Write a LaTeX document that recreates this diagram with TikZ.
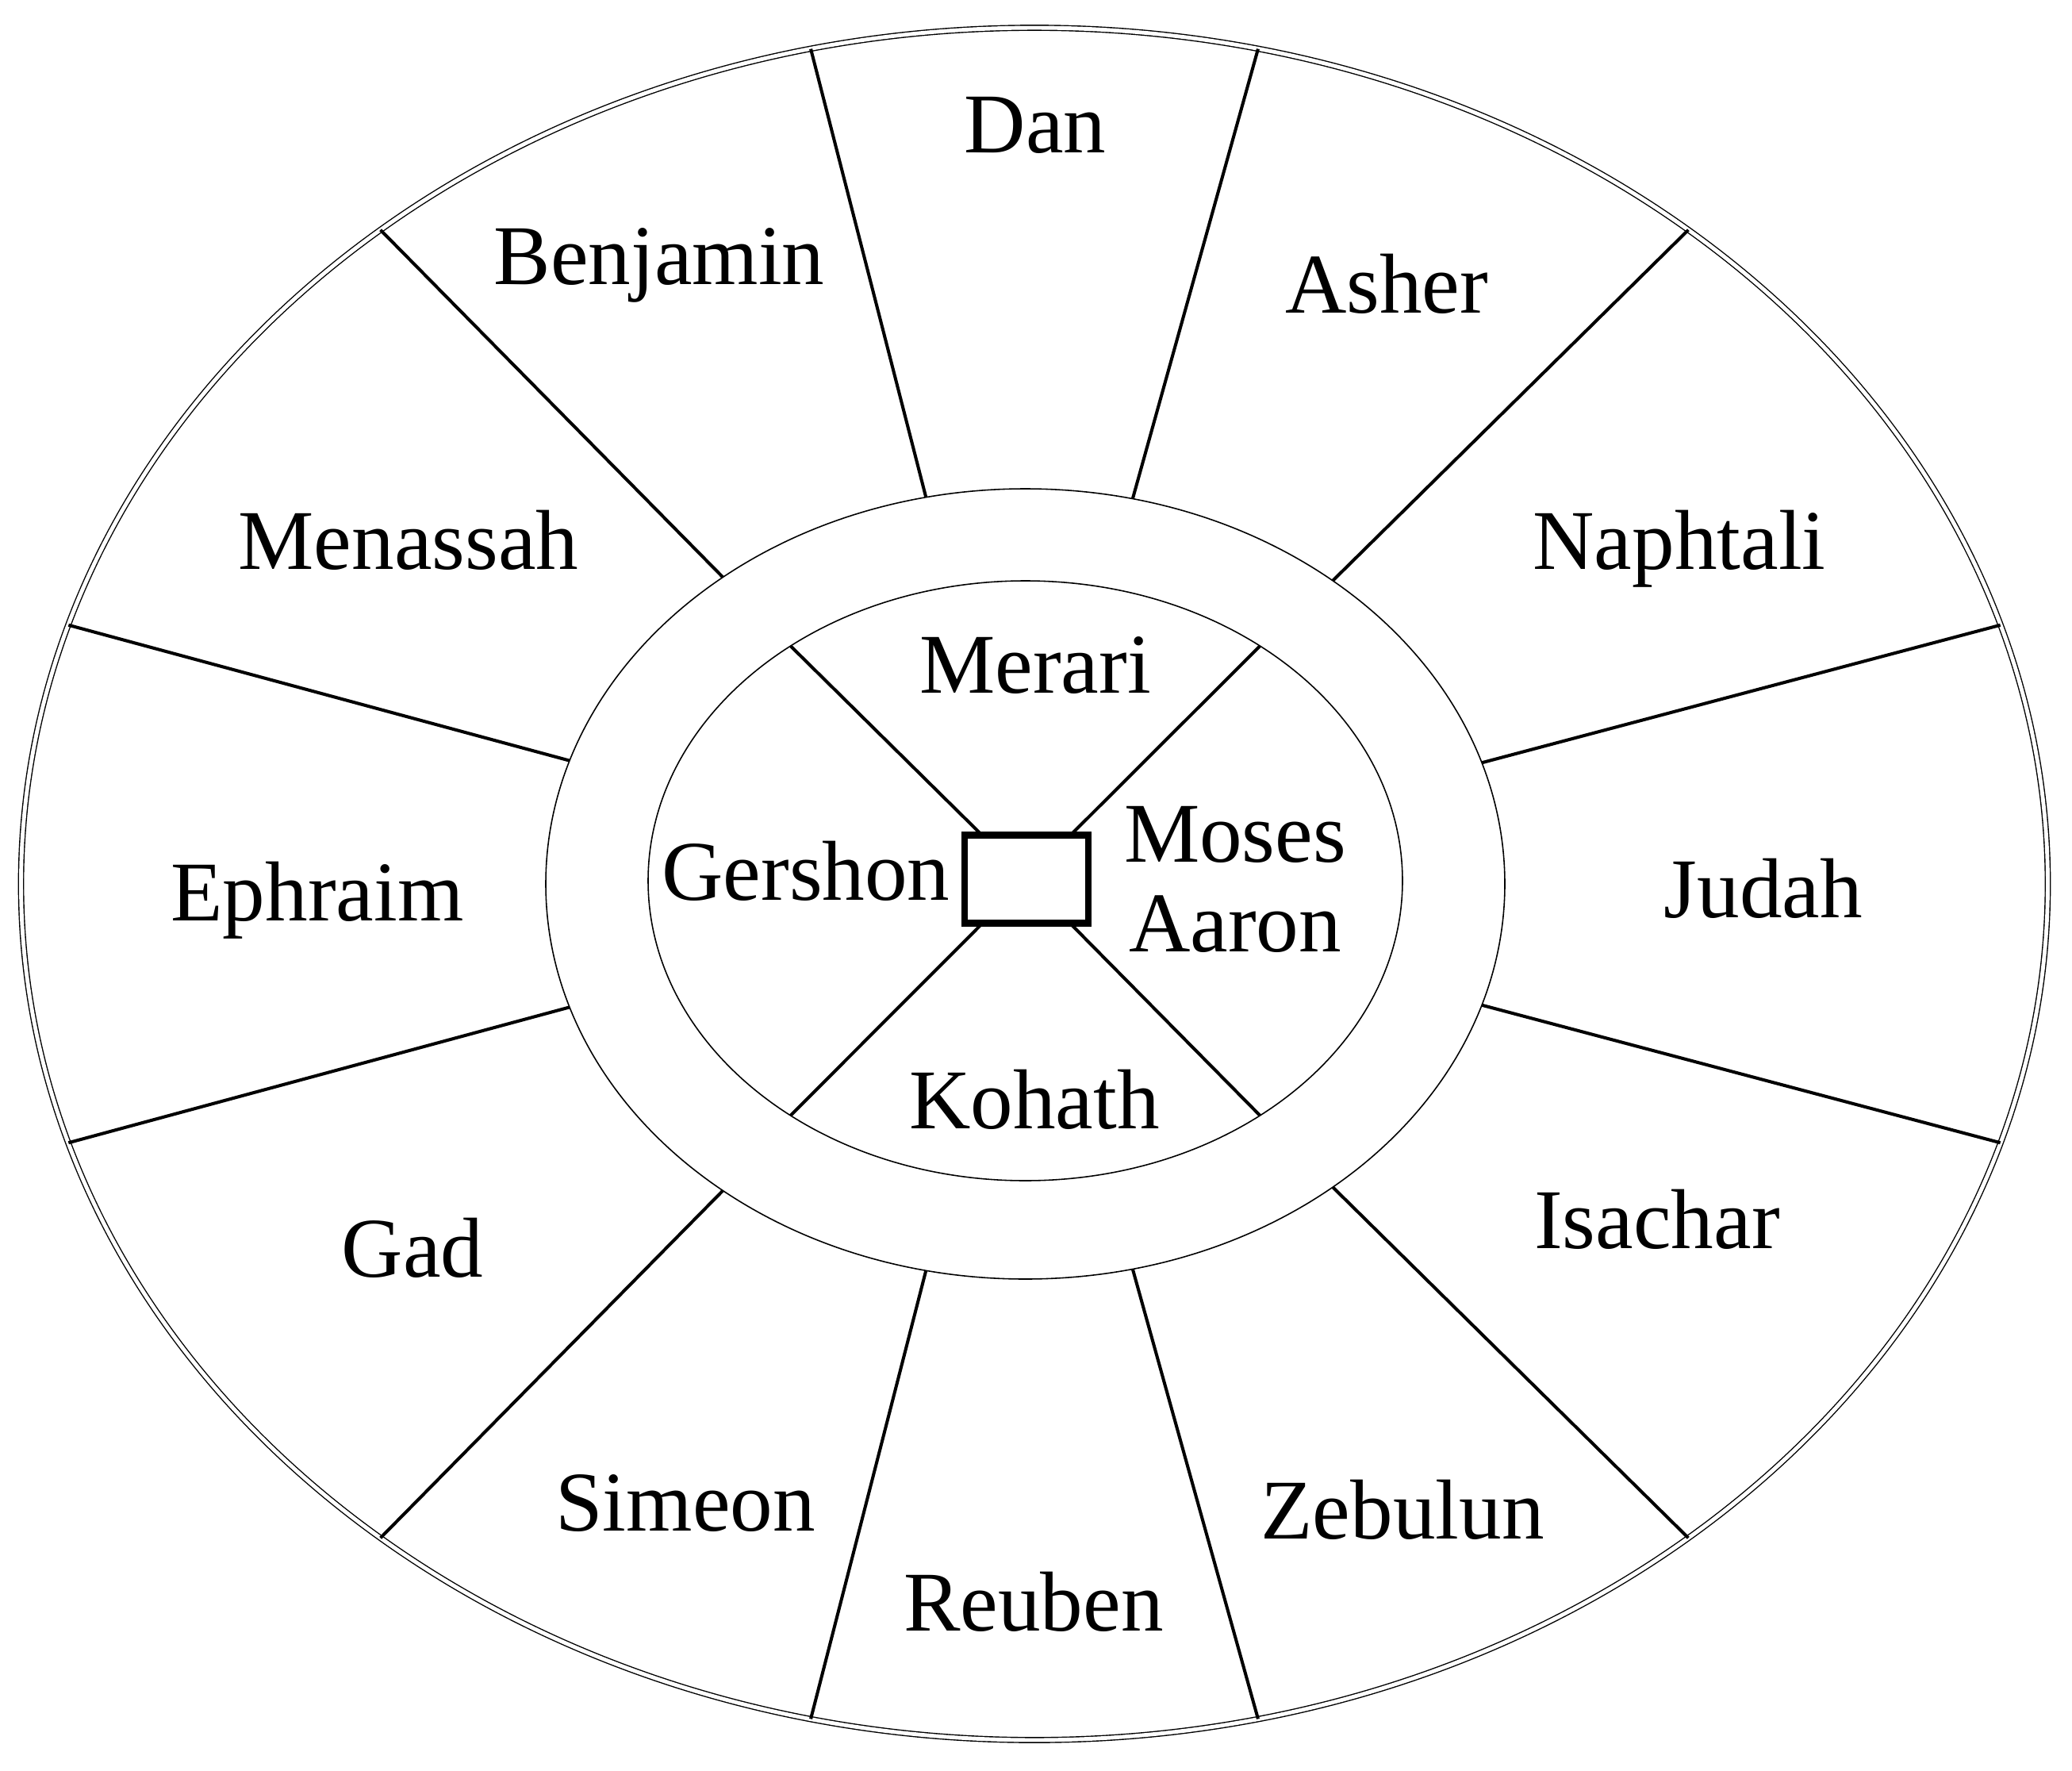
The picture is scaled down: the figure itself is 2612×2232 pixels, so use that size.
\documentclass[tikz,border=0pt]{standalone}
\usepackage{fontspec}
\setmainfont{Liberation Serif}
\usetikzlibrary{shapes.geometric}

\begin{document}
\begin{tikzpicture}[x=0.1mm,y=-0.1mm,
  ring/.style={ellipse,draw,line width=0.45pt,inner sep=0pt,outer sep=0pt},
  divider/.style={line width=1.15pt},
  tribe/.style={anchor=base,font=\fontsize{30.5}{32}\selectfont}]
 \useasboundingbox (0,0) rectangle (2612,2232);

 \node[ring,double,double distance=1.4pt,line width=0.4pt,minimum width=255.5mm,minimum height=215.8mm] (camp) at (1304,1114) {};
 \node[ring,minimum width=120.9mm,minimum height=99.6mm] (levites) at (1292.5,1114) {};
 \node[ring,minimum width=95.1mm,minimum height=75.6mm] (court) at (1292.5,1110) {};
 \node[rectangle,draw,line width=2.4pt,minimum width=15.6mm,minimum height=11.07mm,inner sep=0pt,outer sep=0pt] (tabernacle) at (1294,1108) {};

 \node[tribe] (dan) at (1305,192) {Dan};
 \node[tribe] (benjamin) at (831,358) {Benjamin};
 \node[tribe] (asher) at (1748,394) {Asher};
 \node[tribe] (menassah) at (515,717) {Menassah};
 \node[tribe] (naphtali) at (2117,717) {Naphtali};
 \node[tribe] (ephraim) at (400,1160) {Ephraim};
 \node[tribe] (judah) at (2223,1156) {Judah};
 \node[tribe] (gad) at (520,1609) {Gad};
 \node[tribe] (isachar) at (2089,1573) {Isachar};
 \node[tribe] (simeon) at (864,1929) {Simeon};
 \node[tribe] (zebulun) at (1768,1939) {Zebulun};
 \node[tribe] (reuben) at (1303,2055) {Reuben};

 \node[tribe] (merari) at (1305,873) {Merari};
 \node[tribe] (gershon) at (1016,1134) {Gershon};
 \node[tribe] (kohath) at (1304,1422) {Kohath};
 \node[tribe,align=center] (moses) at (1557,1199) {Moses\\Aaron};

% tribes
\draw[divider] (camp.15) -- (levites);
\draw[divider] (camp.45) -- (levites);
\draw[divider] (camp.75) -- (levites);
\draw[divider] (camp.105) -- (levites);
\draw[divider] (camp.135) -- (levites);
\draw[divider] (camp.165) -- (levites);
\draw[divider] (camp.195) -- (levites);
\draw[divider] (camp.225) -- (levites);
\draw[divider] (camp.255) -- (levites);
\draw[divider] (camp.285) -- (levites);
\draw[divider] (camp.315) -- (levites);
\draw[divider] (camp.345) -- (levites);

% levites
\draw[divider] (tabernacle) -- (court.45);
\draw[divider] (tabernacle) -- (court.135);
\draw[divider] (tabernacle) -- (court.225);
\draw[divider] (tabernacle) -- (court.315);
\end{tikzpicture}
\end{document}
